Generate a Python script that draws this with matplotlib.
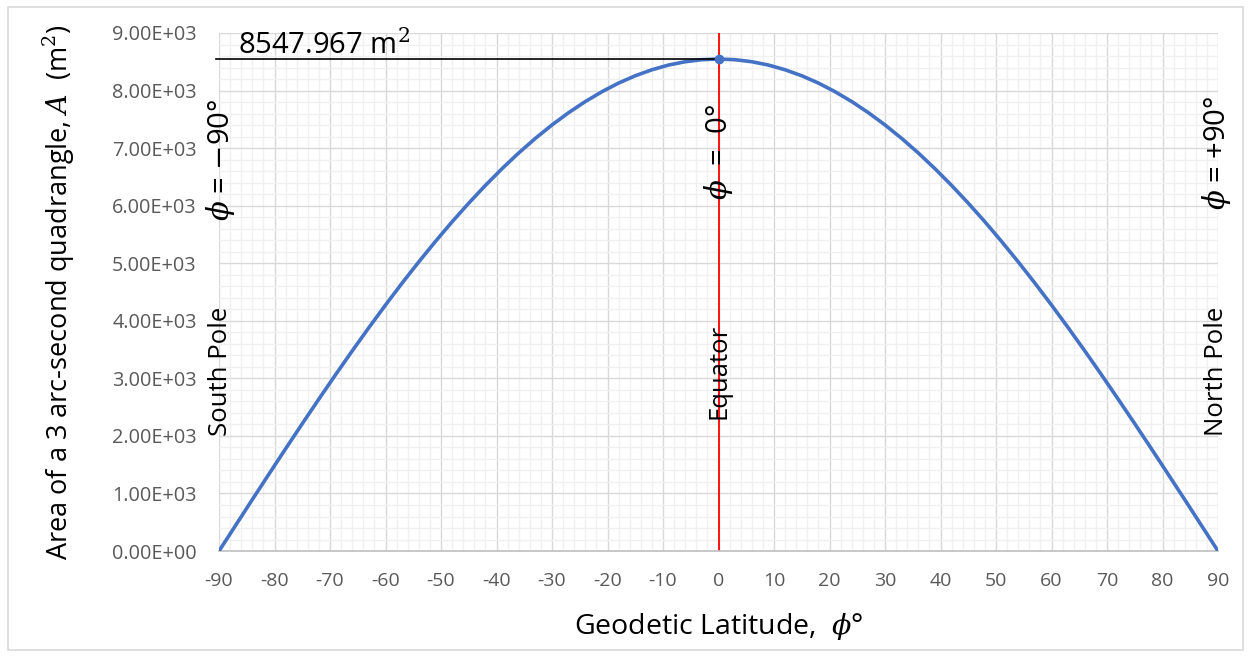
import matplotlib
matplotlib.use("Agg")
import matplotlib.pyplot as plt
from matplotlib.patches import Rectangle
from matplotlib.ticker import FuncFormatter, MultipleLocator

# area of a 3 arc-second quadrangle vs geodetic latitude
latitude = [-90, -87, -84, -81, -78, -75, -72, -69, -66, -63, -60, -57, -54, -51, -48, -45,
            -42, -39, -36, -33, -30, -27, -24, -21, -18, -15, -12, -9, -6, -3,
            0, 3, 6, 9, 12, 15, 18, 21, 24, 27, 30, 33, 36, 39, 42, 45,
            48, 51, 54, 57, 60, 63, 66, 69, 72, 75, 78, 81, 84, 87, 90]
area = [0, 447, 894, 1337, 1777, 2212, 2641, 3063, 3477, 3881, 4274, 4656, 5024, 5379, 5720, 6044,
        6352, 6643, 6916, 7169, 7403, 7616, 7809, 7980, 8130, 8257, 8361, 8443, 8501, 8536,
        8548, 8536, 8501, 8443, 8361, 8257, 8130, 7980, 7809, 7616, 7403, 7169, 6916, 6643, 6352, 6044,
        5720, 5379, 5024, 4656, 4274, 3881, 3477, 3063, 2641, 2212, 1777, 1337, 894, 447, 0]
peak_lat = 0
peak_area = 8547.967

plt.rcParams["font.family"] = ["Open Sans", "DejaVu Sans"]
plt.rcParams["mathtext.fontset"] = "dejavuserif"
plt.rcParams["axes.unicode_minus"] = False

fig = plt.figure(figsize=(12.5, 6.56), dpi=100)
ax = fig.add_axes([0.1752, 0.160, 0.7992, 0.7897])

# light frame round the whole chart
fig.patches.append(Rectangle((0.006, 0.009), 0.988, 0.98, transform=fig.transFigure,
                             fill=False, edgecolor="#d9d9d9", linewidth=1.2))

ax.set_xlim(-90, 90)
ax.set_ylim(0, 9000)
ax.xaxis.set_major_locator(MultipleLocator(10))
ax.xaxis.set_minor_locator(MultipleLocator(2))
ax.yaxis.set_major_locator(MultipleLocator(1000))
ax.yaxis.set_minor_locator(MultipleLocator(200))
ax.yaxis.set_major_formatter(FuncFormatter(lambda v, _p: f"{v:.2E}"))

ax.grid(which="minor", color="#f0f0f0", linewidth=1.0)
ax.grid(which="major", color="#d9d9d9", linewidth=1.0)
ax.set_axisbelow(True)
for s in ("top", "right", "left"):
    ax.spines[s].set_visible(False)
ax.spines["bottom"].set_color("#bfbfbf")
ax.spines["bottom"].set_linewidth(1.2)
ax.tick_params(which="both", length=0)
ax.tick_params(axis="y", pad=16, labelsize=14.3, labelcolor="#595959")
ax.tick_params(axis="x", pad=15, labelsize=14.0, labelcolor="#595959")

ax.plot(latitude, area, color="#4472C4", linewidth=2.6, zorder=3)
ax.axvline(0, color="red", linewidth=1.3, zorder=2)
ax.plot([-90.5, peak_lat], [peak_area, peak_area], color="black", linewidth=1.2, clip_on=False, zorder=3)
ax.plot([peak_lat], [peak_area], "o", color="#4472C4", markersize=6, zorder=4)
ax.text(-86.6, peak_area + 85, "8547.967 m$^2$", fontsize=21, va="baseline", ha="left")

ax.text(-89.8, 3130, "South Pole", rotation=90, fontsize=18.5, ha="center", va="center")
ax.text(-89.7, 6790, r"$\phi$ = $-$90°", rotation=90, fontsize=21, ha="center", va="center")
ax.text(0, 3130, "Equator", rotation=90, fontsize=18.5, ha="center", va="center")
ax.text(0, 6930, r"$\phi$  =  0°", rotation=90, fontsize=21, ha="center", va="center")
ax.text(89.7, 3130, "North Pole", rotation=90, fontsize=18.5, ha="center", va="center")
ax.text(89.7, 6910, r"$\phi$ = +90°", rotation=90, fontsize=21, ha="center", va="center")

ax.set_xlabel(r"Geodetic Latitude,  $\phi$°", fontsize=20.5, labelpad=15)
ax.set_ylabel(r"Area of a 3 arc-second quadrangle, $A$  (m$^2$)", fontsize=19.5, labelpad=25)

fig.savefig("out.png", dpi=100)
